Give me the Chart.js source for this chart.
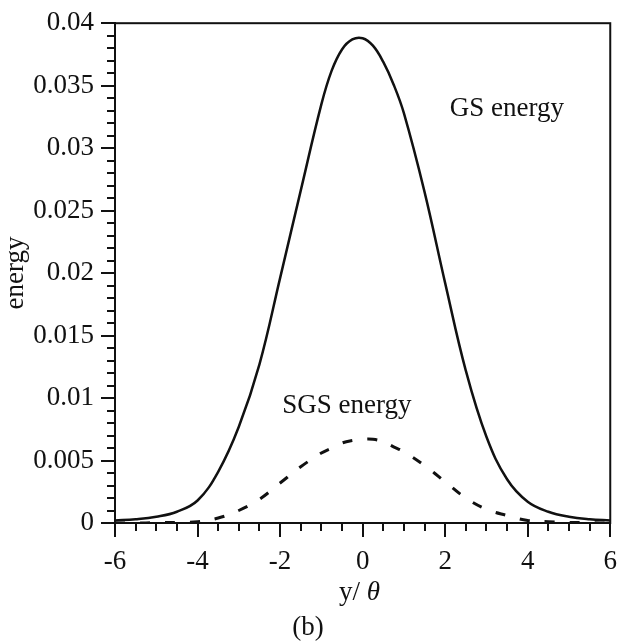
<!DOCTYPE html>
<html>
<head>
<meta charset="utf-8">
<script src="https://cdn.jsdelivr.net/npm/chart.js@4/dist/chart.umd.min.js"></script>
<style>
  body { margin: 0; background: #fff; }
  #wrap { position: relative; width: 626px; height: 643px; }
</style>
</head>
<body>
<div id="wrap"><canvas id="chart" width="626" height="643"></canvas></div>
<script>
const xValues = [-6, -5.5, -5, -4.5, -4, -3.5, -3, -2.5, -2, -1.5, -1, -0.75, -0.5, -0.25, 0, 0.25, 0.5, 0.75, 1, 1.5, 2, 2.5, 3, 3.5, 4, 4.5, 5, 5.5, 6];
const gsEnergy = [0.0002, 0.0003, 0.0005, 0.0009, 0.0018, 0.0041, 0.0077, 0.0127, 0.0196, 0.0266, 0.0335, 0.0362, 0.0379, 0.0387, 0.0388, 0.0382, 0.0369, 0.0351, 0.0328, 0.0265, 0.0192, 0.0122, 0.0069, 0.0035, 0.0017, 0.0009, 0.0005, 0.0003, 0.0002];
const sgsEnergy = [0, 0, 0.00002, 0.00005, 0.0001, 0.0004, 0.0010, 0.0019, 0.0032, 0.0045, 0.0056, 0.0060, 0.0064, 0.0066, 0.0067, 0.0067, 0.0065, 0.0061, 0.0057, 0.0046, 0.0033, 0.0020, 0.0011, 0.0006, 0.0002, 0.0001, 0.00005, 0.00002, 0];
const xTicks = [-6, -4, -2, 0, 2, 4, 6];
const yTicks = [0, 0.005, 0.01, 0.015, 0.02, 0.025, 0.03, 0.035, 0.04];

const SERIF = "'Liberation Serif', 'Times New Roman', serif";
const FS = 27;

function pairs(ys) {
  return xValues.map((x, i) => ({ x, y: ys[i] }));
}

// frame, minor ticks and the in-plot text labels
const extras = {
  id: "extras",
  afterDraw(chart) {
    const { ctx, chartArea: a, scales: { x, y } } = chart;
    ctx.save();
    ctx.strokeStyle = "#111";
    ctx.lineWidth = 2;
    ctx.strokeRect(a.left, a.top, a.right - a.left, a.bottom - a.top);

    ctx.beginPath();
    for (let v = -6; v <= 6.001; v += 0.5) {
      if (Math.abs(v % 2) < 1e-6) continue;
      const px = Math.round(x.getPixelForValue(v));
      ctx.moveTo(px, a.bottom);
      ctx.lineTo(px, a.bottom + 8);
    }
    for (let k = 0; k <= 40; k++) {
      if (k % 5 === 0) continue;
      const py = Math.round(y.getPixelForValue(k * 0.001));
      ctx.moveTo(a.left, py);
      ctx.lineTo(a.left - 8, py);
    }
    ctx.stroke();

    ctx.fillStyle = "#111";
    ctx.textBaseline = "alphabetic";
    ctx.textAlign = "left";
    ctx.font = `${FS}px ${SERIF}`;
    ctx.fillText("GS energy", x.getPixelForValue(2.11), y.getPixelForValue(0.0326));
    ctx.fillText("SGS energy", x.getPixelForValue(-1.95), y.getPixelForValue(0.00881));

    // x title: "y/ θ" with italic theta
    const part1 = "y/ ";
    const w1 = ctx.measureText(part1).width;
    ctx.font = `italic ${FS}px ${SERIF}`;
    const w2 = ctx.measureText("θ").width;
    const cx = (a.left + a.right) / 2 - 3;
    const start = cx - (w1 + w2) / 2;
    ctx.font = `${FS}px ${SERIF}`;
    ctx.fillText(part1, start, a.bottom + 77);
    ctx.font = `italic ${FS}px ${SERIF}`;
    ctx.fillText("θ", start + w1, a.bottom + 77);

    ctx.font = `${FS}px ${SERIF}`;
    ctx.textAlign = "center";
    ctx.fillText("(b)", 308, a.bottom + 112);
    ctx.restore();
  },
};

new Chart(document.getElementById("chart"), {
  type: "line",
  data: {
    datasets: [
      {
        label: "GS energy",
        data: pairs(gsEnergy),
        borderColor: "#111",
        borderWidth: 2.5,
        pointRadius: 0,
        tension: 0.4,
      },
      {
        label: "SGS energy",
        data: pairs(sgsEnergy),
        borderColor: "#111",
        borderWidth: 3,
        borderDash: [10, 15],
        pointRadius: 0,
        tension: 0.4,
      },
    ],
  },
  options: {
    responsive: false,
    animation: false,
    layout: { padding: { top: 19, right: 13, left: 0, bottom: 0 } },
    plugins: { legend: { display: false }, tooltip: { enabled: false } },
    scales: {
      x: {
        type: "linear",
        min: -6,
        max: 6,
        afterBuildTicks: (s) => { s.ticks = xTicks.map((v) => ({ value: v })); },
        afterFit: (s) => { s.height = 120; },
        border: { display: true, color: "#111", width: 2 },
        grid: { drawOnChartArea: false, drawTicks: true, tickLength: 14, color: "#111", lineWidth: 2 },
        ticks: { color: "#111", font: { family: SERIF, size: FS }, padding: 9, maxRotation: 0 },
      },
      y: {
        min: 0,
        max: 0.04,
        afterBuildTicks: (s) => { s.ticks = yTicks.map((v) => ({ value: v })); },
        afterFit: (s) => { s.width = 115; },
        border: { display: true, color: "#111", width: 2 },
        grid: { drawOnChartArea: false, drawTicks: true, tickLength: 14, color: "#111", lineWidth: 2 },
        ticks: {
          color: "#111",
          font: { family: SERIF, size: FS },
          padding: 7,
          callback: (v) => String(+v.toFixed(3)),
        },
        title: {
          display: true,
          text: "energy",
          color: "#111",
          font: { family: SERIF, size: FS },
          padding: { top: 0, bottom: 0 },
        },
      },
    },
  },
  plugins: [extras],
});
</script>
</body>
</html>
